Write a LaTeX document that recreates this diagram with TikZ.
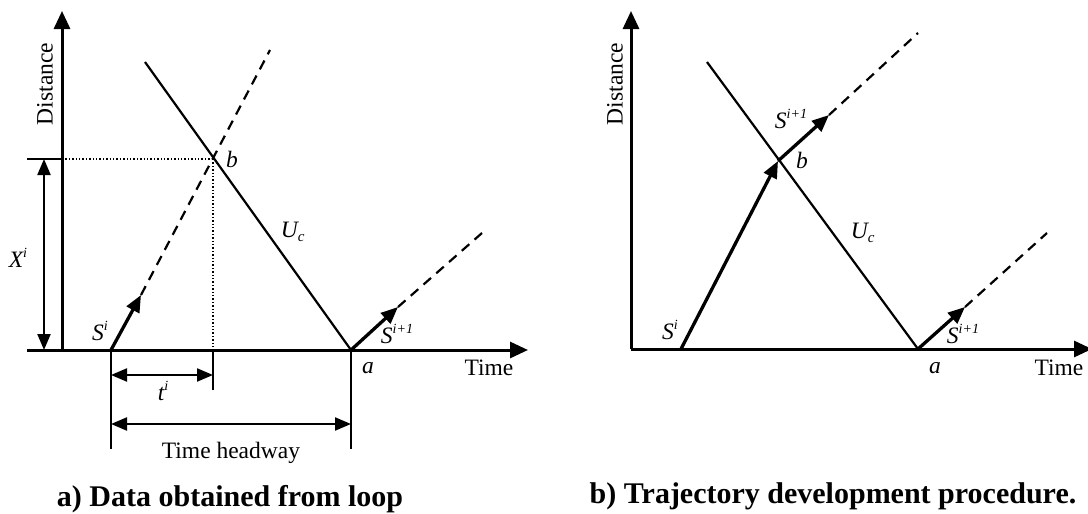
\documentclass[tikz,border=0pt]{standalone}
\usepackage{fontspec}
\setmainfont{Liberation Serif}
\usetikzlibrary{arrows.meta}
\newcommand\upidx[1]{\raisebox{0.42em}{\fontsize{14}{15}\selectfont\itshape #1}}
\tikzset{
  axisline/.style={line width=3pt,-{Triangle[length=18pt,width=16pt]}},
  trajarr/.style={line width=3.3pt,-{Triangle[length=17pt,width=14pt]}},
  dimarr/.style={line width=2.2pt,{Triangle[length=16pt,width=13pt]}-{Triangle[length=16pt,width=13pt]}},
  wave/.style={line width=2.2pt},
  tick/.style={line width=2.2pt},
  trajdash/.style={line width=2.2pt,dash pattern=on 10pt off 7pt},
  dotline/.style={line width=1.4pt,dash pattern=on 1.4pt off 2pt},
  lbl/.style={font=\fontsize{23.5}{26}\selectfont,inner sep=0pt},
  ilbl/.style={font=\fontsize{23.5}{26}\selectfont\itshape,inner sep=0pt},
  captext/.style={font=\fontsize{30}{34}\selectfont\bfseries,anchor=base,inner sep=0pt}
}
\begin{document}
\begin{tikzpicture}[x=1pt,y=-1pt]
\useasboundingbox (0,0) rectangle (1088,514);
% ---------- panel a ----------
\coordinate (yA0) at (62,350);
\coordinate (yAtop) at (62,11);
\coordinate (tAstart) at (27,350);
\coordinate (tAend) at (528,350);
\coordinate (SiA) at (111,350);
\coordinate (bA) at (213,159);
\coordinate (aA) at (351,350);
\coordinate (UcAtop) at (145,62);
\coordinate (SiAarr) at (141,295);
\coordinate (SiAdash) at (270,50);
\coordinate (SnAarr) at (398,307);
\coordinate (SnAdash) at (482,233);
\coordinate (XtickL) at (27,159);
\coordinate (XtickR) at (62,159);
\coordinate (Xtop) at (44,159);
\coordinate (Xbot) at (44,350);
\coordinate (tAx) at (213,350);
\coordinate (tickT) at (213,390);
\coordinate (tickSi) at (111,449);
\coordinate (tickA) at (351,449);
\coordinate (tiL) at (111,375);
\coordinate (tiR) at (213,375);
\coordinate (hwL) at (111,424);
\coordinate (hwR) at (351,424);

\draw[axisline] (yA0) -- (yAtop);
\draw[axisline] (tAstart) -- (tAend);
\draw[tick] (XtickL) -- (XtickR);
\draw[dotline] (XtickR) -- (bA);
\draw[dotline] (bA) -- (tAx);
\draw[dimarr] (Xtop) -- (Xbot);
\draw[wave] (UcAtop) -- (aA);
\draw[trajarr] (SiA) -- (SiAarr);
\draw[trajdash] (SiAarr) -- (SiAdash);
\draw[trajarr] (aA) -- (SnAarr);
\draw[trajdash] (SnAarr) -- (SnAdash);
\draw[tick] (tAx) -- (tickT);
\draw[tick] (SiA) -- (tickSi);
\draw[tick] (aA) -- (tickA);
\draw[dimarr] (tiL) -- (tiR);
\draw[dimarr] (hwL) -- (hwR);

\node[lbl,rotate=90] (distA) at (45,84) {Distance};
\node[ilbl] (XiA) at (18,258) {X\upidx{i}};
\node[ilbl] (bAl) at (232,159) {b};
\node[ilbl] (UcA) at (293,232) {U\textsubscript{\fontsize{15}{16}\selectfont c}};
\node[ilbl] (SiAl) at (100,331) {S\upidx{i}};
\node[ilbl] (SnAl) at (397,334) {S\upidx{i+1}};
\node[ilbl] (aAl) at (368,368) {a};
\node[lbl,anchor=base] (timeA) at (489,375) {Time};
\node[ilbl] (tiAl) at (163,391) {t\upidx{i}};
\node[lbl,anchor=base] (hwA) at (231,458) {Time headway};
\node[captext] (capA) at (230,506) {a) Data obtained from loop};

% ---------- panel b ----------
\coordinate (yB0) at (631,349);
\coordinate (yBtop) at (631,11);
\coordinate (tBend) at (1092,349);
\coordinate (SiB) at (681,349);
\coordinate (bB) at (778,161);
\coordinate (SnBarr) at (829,115);
\coordinate (SnBdash) at (918,33);
\coordinate (UcBtop) at (707,62);
\coordinate (aB) at (918,349);
\coordinate (SnB2arr) at (965,307);
\coordinate (SnB2dash) at (1047,233);

\draw[axisline] (yB0) -- (yBtop);
\draw[axisline] (yB0) -- (tBend);
\draw[wave] (UcBtop) -- (aB);
\draw[trajarr] (SiB) -- (bB);
\draw[trajarr] (bB) -- (SnBarr);
\draw[trajdash] (SnBarr) -- (SnBdash);
\draw[trajarr] (aB) -- (SnB2arr);
\draw[trajdash] (SnB2arr) -- (SnB2dash);

\node[lbl,rotate=90] (distB) at (615,84) {Distance};
\node[ilbl] (SnBl) at (791,119) {S\upidx{i+1}};
\node[ilbl] (bBl) at (802,160) {b};
\node[ilbl] (UcB) at (863,233) {U\textsubscript{\fontsize{15}{16}\selectfont c}};
\node[ilbl] (SiBl) at (670,330) {S\upidx{i}};
\node[ilbl] (SnB2l) at (963,334) {S\upidx{i+1}};
\node[ilbl] (aBl) at (935,368) {a};
\node[lbl,anchor=base] (timeB) at (1059,375) {Time};
\node[captext] (capB) at (833,503) {b) Trajectory development procedure.};
\end{tikzpicture}
\end{document}
